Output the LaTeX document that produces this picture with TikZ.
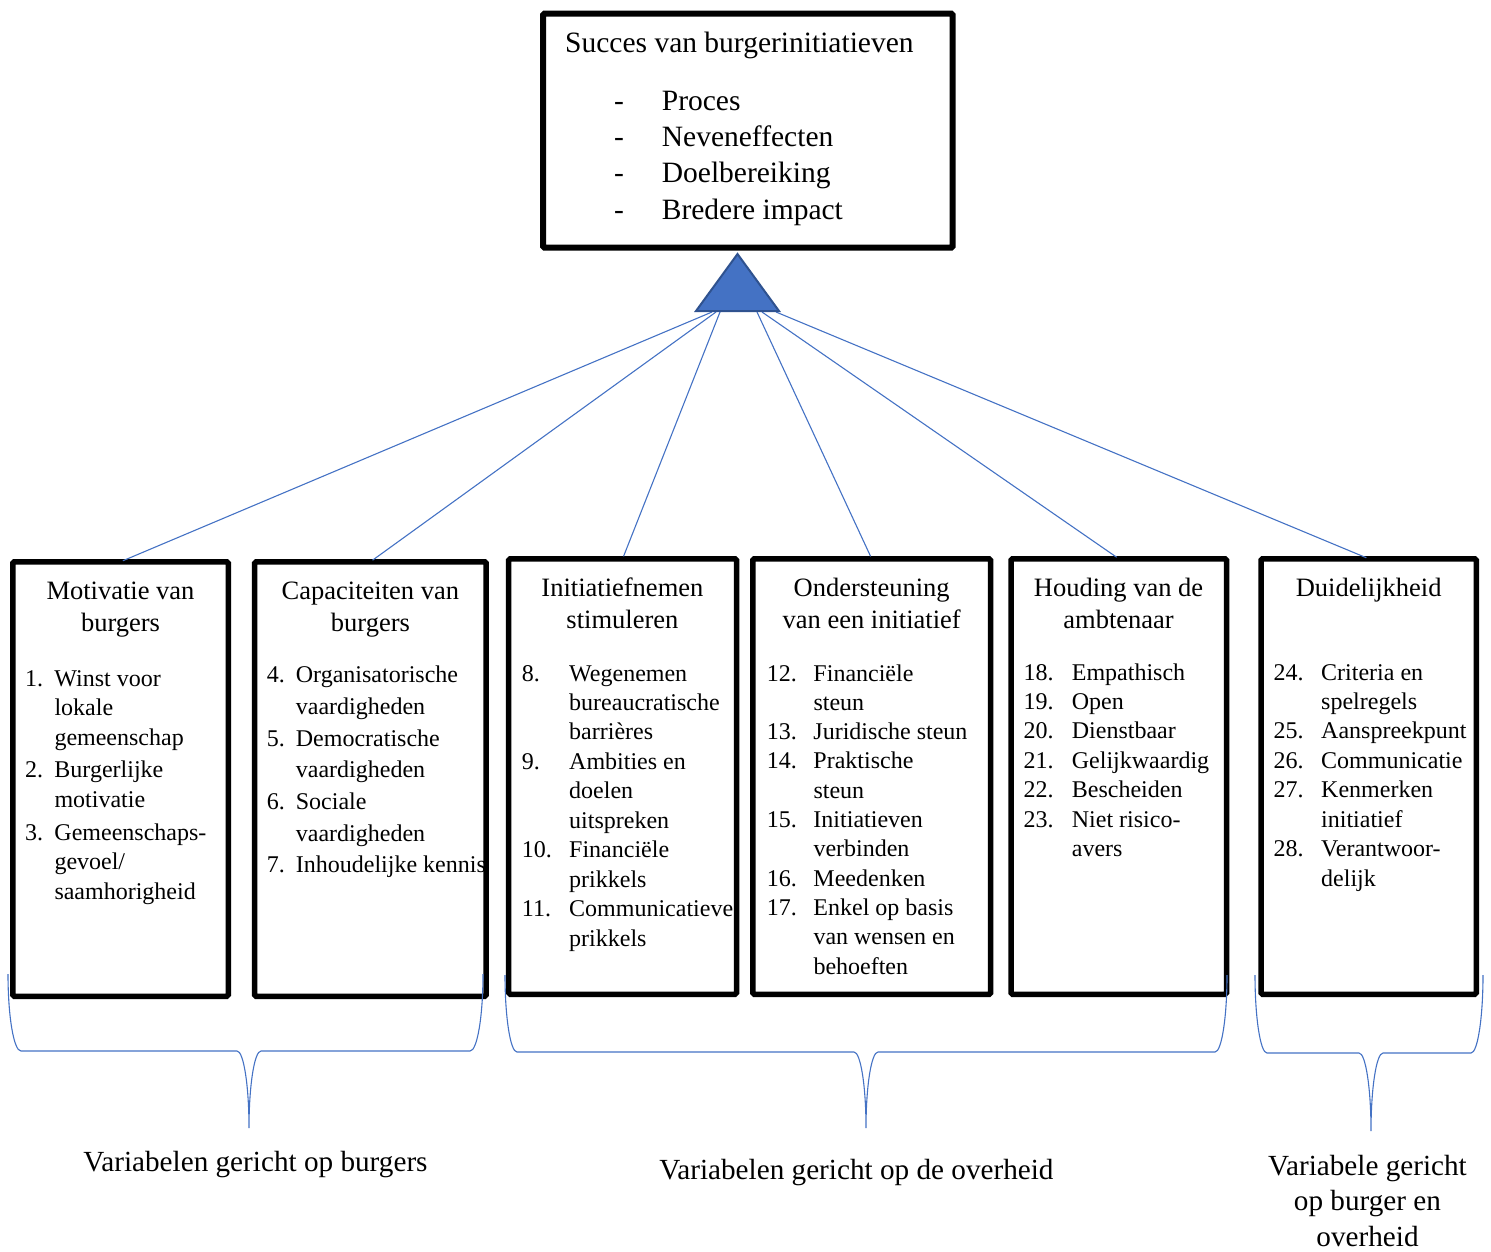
\documentclass[tikz,border=0pt]{standalone}
\usepackage{fontspec}
\setmainfont{Liberation Serif}
\definecolor{wblue}{HTML}{4472C4}
\definecolor{wdblue}{HTML}{2F528F}
\newlength\numw
\newcommand\li[2]{\makebox[\numw][l]{#1}#2}
\begin{document}
\begin{tikzpicture}[x=1pt,y=-1pt,
  box/.style={draw=black, line width=5.5pt, rounded corners=1.5pt, inner sep=0pt, outer sep=0pt},
  conn/.style={wblue, line width=1.1pt, shorten >=2.6pt},
  brace/.style={wblue, line width=1.1pt},
  ttl/.style={inner sep=0pt, anchor=base, font=\fontsize{26.5}{31.7}\selectfont},
  lst/.style={inner sep=0pt, anchor=base west},
  lbl/.style={inner sep=0pt, anchor=base, font=\fontsize{29.2}{35.5}\selectfont}]
\useasboundingbox (0,0) rectangle (1491,1251);

% ---------- texts (drawn first, boxes on top) ----------
\node[inner sep=0pt, anchor=base west, font=\fontsize{29.5}{36.4}\selectfont] (toptitle) at (565,52.7) {Succes van burgerinitiatieven};
\node[lst, font=\fontsize{29.5}{36.4}\selectfont] (toplist) at (614,110) {\setlength\numw{47.7pt}\begin{tabular}[t]{@{}l@{}}
\li{-}{Proces}\\ \li{-}{Neveneffecten}\\ \li{-}{Doelbereiking}\\ \li{-}{Bredere impact}\end{tabular}};

\node[ttl] (t1) at (120.5,599.3) {\begin{tabular}[t]{@{}c@{}}Motivatie van\\ burgers\end{tabular}};
\node[ttl] (t2) at (370.4,599.3) {\begin{tabular}[t]{@{}c@{}}Capaciteiten van\\ burgers\end{tabular}};
\node[ttl] (t3) at (622.4,596.7) {\begin{tabular}[t]{@{}c@{}}Initiatiefnemen\\ stimuleren\end{tabular}};
\node[ttl] (t4) at (871.7,596.7) {\begin{tabular}[t]{@{}c@{}}Ondersteuning\\ van een initiatief\end{tabular}};
\node[ttl] (t5) at (1118.6,596.7) {\begin{tabular}[t]{@{}c@{}}Houding van de\\ ambtenaar\end{tabular}};
\node[ttl] (t6) at (1368.7,596.7) {Duidelijkheid};

\node[lst, font=\fontsize{24}{29.6}\selectfont] (l1) at (25,686) {\setlength\numw{29.3pt}\begin{tabular}[t]{@{}l@{}}
\li{1.}{Winst voor}\\ \li{}{lokale}\\ \li{}{gemeenschap}\\[3.1pt]
\li{2.}{Burgerlijke}\\ \li{}{motivatie}\\[3.1pt]
\li{3.}{Gemeenschaps-}\\ \li{}{gevoel/}\\ \li{}{saamhorigheid}\end{tabular}};

\node[lst, font=\fontsize{24}{31.7}\selectfont] (l2) at (266.7,682.7) {\setlength\numw{29pt}\begin{tabular}[t]{@{}l@{}}
\li{4.}{Organisatorische}\\ \li{}{vaardigheden}\\
\li{5.}{Democratische}\\ \li{}{vaardigheden}\\
\li{6.}{Sociale}\\ \li{}{vaardigheden}\\
\li{7.}{Inhoudelijke kennis}\end{tabular}};

\node[lst, font=\fontsize{24}{29.45}\selectfont] (l3) at (521.7,681) {\setlength\numw{47.3pt}\begin{tabular}[t]{@{}l@{}}
\li{8.}{Wegenemen}\\ \li{}{bureaucratische}\\ \li{}{barrières}\\
\li{9.}{Ambities en}\\ \li{}{doelen}\\ \li{}{uitspreken}\\
\li{10.}{Financiële}\\ \li{}{prikkels}\\
\li{11.}{Communicatieve}\\ \li{}{prikkels}\end{tabular}};

\node[lst, font=\fontsize{24}{29.3}\selectfont] (l4) at (766.7,681) {\setlength\numw{46.6pt}\begin{tabular}[t]{@{}l@{}}
\li{12.}{Financiële}\\ \li{}{steun}\\
\li{13.}{Juridische steun}\\
\li{14.}{Praktische}\\ \li{}{steun}\\
\li{15.}{Initiatieven}\\ \li{}{verbinden}\\
\li{16.}{Meedenken}\\
\li{17.}{Enkel op basis}\\ \li{}{van wensen en}\\ \li{}{behoeften}\end{tabular}};

\node[lst, font=\fontsize{24}{29.45}\selectfont] (l5) at (1023.3,680) {\setlength\numw{48.4pt}\begin{tabular}[t]{@{}l@{}}
\li{18.}{Empathisch}\\
\li{19.}{Open}\\
\li{20.}{Dienstbaar}\\
\li{21.}{Gelijkwaardig}\\
\li{22.}{Bescheiden}\\
\li{23.}{Niet risico-}\\ \li{}{avers}\end{tabular}};

\node[lst, font=\fontsize{24}{29.43}\selectfont] (l6) at (1273.3,680) {\setlength\numw{47.7pt}\begin{tabular}[t]{@{}l@{}}
\li{24.}{Criteria en}\\ \li{}{spelregels}\\
\li{25.}{Aanspreekpunt}\\
\li{26.}{Communicatie}\\
\li{27.}{Kenmerken}\\ \li{}{initiatief}\\
\li{28.}{Verantwoor-}\\ \li{}{delijk}\end{tabular}};

% ---------- boxes ----------
\node[box, line width=6pt, minimum width=409.7pt, minimum height=234pt] (top) at (747.85,130.7) {};
\node[box, minimum width=215.5pt, minimum height=434.5pt] (b1) at (120.5,779) {};
\node[box, minimum width=231.5pt, minimum height=434.5pt] (b2) at (370.4,779) {};
\node[box, minimum width=227.8pt, minimum height=435.5pt] (b3) at (622.6,776.5) {};
\node[box, minimum width=237.8pt, minimum height=435.5pt] (b4) at (871.7,776.5) {};
\node[box, minimum width=215.5pt, minimum height=435.5pt] (b5) at (1118.8,776.5) {};
\node[box, minimum width=215.2pt, minimum height=435.5pt] (b6) at (1368.7,776.5) {};

% ---------- connectors ----------
\coordinate (s1) at (712,312);
\coordinate (s2) at (716,312);
\coordinate (s3) at (720,312);
\coordinate (s4) at (757,312);
\coordinate (s5) at (762,312);
\coordinate (s6) at (776,312);
\draw[conn] (s1) -- (b1.north);
\draw[conn] (s2) -- (b2.north);
\draw[conn] (s3) -- (b3.north);
\draw[conn] (s4) -- (b4.north);
\draw[conn] (s5) -- (b5.north);
\draw[conn] (s6) -- (b6.north);

% ---------- triangle ----------
\coordinate (apex) at (737.5,254);
\coordinate (tl) at (696,311);
\coordinate (tr) at (779,311);
\draw[fill=wblue, draw=wdblue, line width=2pt, line join=miter] (apex) -- (tr) -- (tl) -- cycle;

% ---------- braces ----------
\draw[brace] (8,974) .. controls (8,1016.5) and (13.8,1051) .. (21,1051) -- (237,1051)
  .. controls (243.6,1051) and (249,1085.5) .. (249,1128)
  .. controls (249,1085.5) and (254.4,1051) .. (261,1051) -- (470,1051)
  .. controls (477.2,1051) and (483,1016.5) .. (483,974);
\draw[brace] (505,975) .. controls (505,1017.5) and (510.4,1052) .. (517,1052) -- (854,1052)
  .. controls (860.6,1052) and (866,1086) .. (866,1128)
  .. controls (866,1086) and (871.4,1052) .. (878,1052) -- (1215,1052)
  .. controls (1221.6,1052) and (1227,1017.5) .. (1227,975);
\draw[brace] (1255,975) .. controls (1255,1018) and (1260.4,1053) .. (1267,1053) -- (1359,1053)
  .. controls (1365.6,1053) and (1371,1088) .. (1371,1131)
  .. controls (1371,1088) and (1376.4,1053) .. (1383,1053) -- (1471,1053)
  .. controls (1477.6,1053) and (1483,1018) .. (1483,975);

% ---------- bottom labels ----------
\node[lbl] (g1) at (255.5,1171.7) {Variabelen gericht op burgers};
\node[lbl] (g2) at (856.5,1179.5) {Variabelen gericht op de overheid};
\node[lbl] (g3) at (1367.5,1175) {\begin{tabular}[t]{@{}c@{}}Variabele gericht\\ op burger en\\ overheid\end{tabular}};
\end{tikzpicture}
\end{document}
